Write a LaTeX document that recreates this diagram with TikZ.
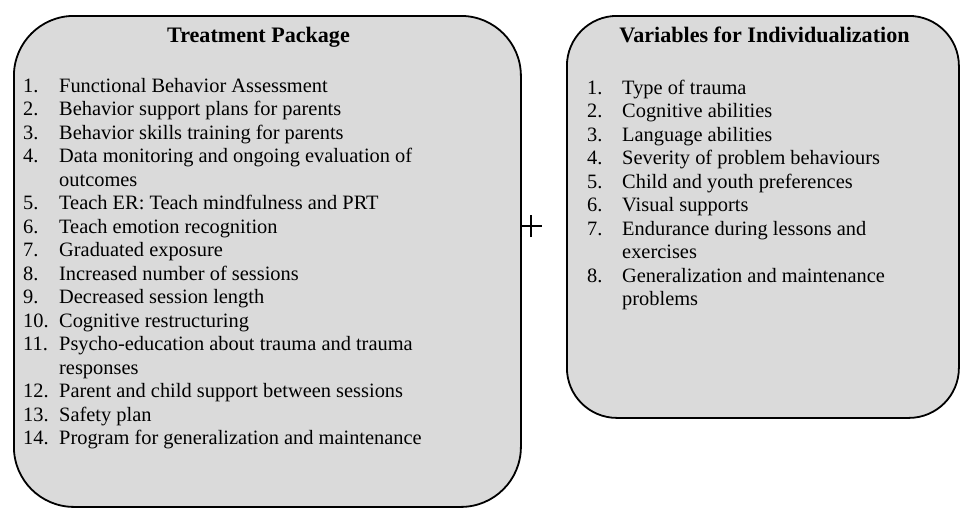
\documentclass[tikz,border=0pt]{standalone}
\usepackage{fontspec}
\setmainfont{Liberation Serif}
\usepackage{array}
\definecolor{panelgray}{HTML}{DADADA}
\begin{document}
\begin{tikzpicture}[x=1pt,y=-1pt,
  panel/.style={draw=black, line width=1.8pt, fill=panelgray, inner sep=0pt, anchor=north west},
  heading/.style={anchor=base, inner sep=0pt, font=\fontsize{22.1}{25}\selectfont\bfseries},
  itemlist/.style={anchor=base west, inner sep=0pt, font=\fontsize{20.4}{23.5}\selectfont}
]
\useasboundingbox (0,0) rectangle (960,507);

% two rounded panels
\node[panel, rounded corners=60pt, minimum width=507pt, minimum height=491pt] (pkg) at (13,15) {};
\node[panel, rounded corners=50pt, minimum width=392pt, minimum height=402pt] (var) at (566,15) {};

% headings
\node[heading] (pkgtitle) at (258.5,42) {Treatment Package};
\node[heading] (vartitle) at (764.5,42) {Variables for Individualization};

% treatment package list
\node[itemlist] (pkglist) at (23,92) {%
\begin{tabular}[t]{@{}p{36pt}@{}l@{}}
1. & Functional Behavior Assessment\\
2. & Behavior support plans for parents\\
3. & Behavior skills training for parents\\
4. & Data monitoring and ongoing evaluation of\\
   & outcomes\\
5. & Teach ER: Teach mindfulness and PRT\\
6. & Teach emotion recognition\\
7. & Graduated exposure\\
8. & Increased number of sessions\\
9. & Decreased session length\\
10. & Cognitive restructuring\\
11. & Psycho-education about trauma and trauma\\
    & responses\\
12. & Parent and child support between sessions\\
13. & Safety plan\\
14. & Program for generalization and maintenance
\end{tabular}};

% individualization list
\node[itemlist] (varlist) at (587,94) {%
\begin{tabular}[t]{@{}p{35pt}@{}l@{}}
1. & Type of trauma\\
2. & Cognitive abilities\\
3. & Language abilities\\
4. & Severity of problem behaviours\\
5. & Child and youth preferences\\
6. & Visual supports\\
7. & Endurance during lessons and\\
   & exercises\\
8. & Generalization and maintenance\\
   & problems
\end{tabular}};

% plus sign between the panels
\coordinate (plus) at (531,226);
\draw[line width=1.4pt] ([xshift=-11pt]plus) -- ([xshift=11pt]plus);
\draw[line width=1.4pt] ([yshift=-11pt]plus) -- ([yshift=11pt]plus);
\end{tikzpicture}
\end{document}
